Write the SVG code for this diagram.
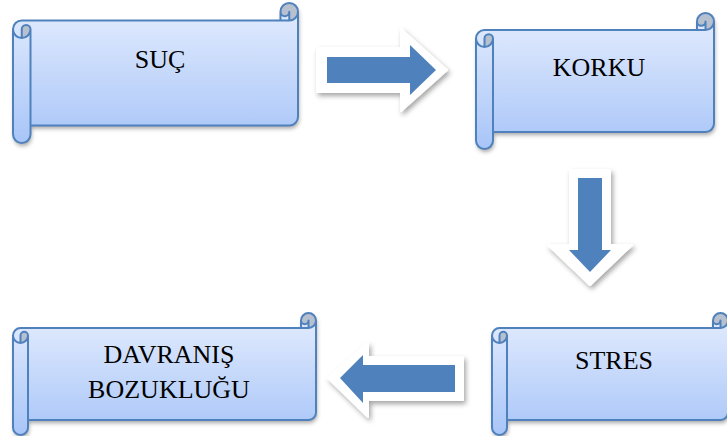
<svg xmlns="http://www.w3.org/2000/svg" width="727" height="436" viewBox="0 0 727 436">
<defs>
  <linearGradient id="g" x1="0" y1="0" x2="0" y2="1">
    <stop offset="0" stop-color="#e0eafd"/>
    <stop offset="1" stop-color="#a8c5f8"/>
  </linearGradient>
  <filter id="sh" x="-10%" y="-10%" width="125%" height="130%">
    <feDropShadow dx="1" dy="3" stdDeviation="2.2" flood-color="#000" flood-opacity="0.35"/>
  </filter>
  <filter id="ash" x="-20%" y="-20%" width="150%" height="150%">
    <feDropShadow dx="2" dy="3" stdDeviation="2.5" flood-color="#000" flood-opacity="0.35"/>
  </filter>
</defs>
<style>
  .body{fill:url(#g);}
  .dark{fill:#b7c0cf;}
  .line{fill:none;stroke:#4f81bd;stroke-width:2;stroke-linejoin:round;}
  .txt{font-family:"Liberation Serif","Times New Roman",serif;font-size:26px;fill:#000;text-anchor:middle;}
  .aw{fill:#fff;stroke:#fff;stroke-width:2;stroke-linejoin:round;}
  .ab{fill:#4f81bd;}
</style>

<g id="node-suc" transform="translate(13,3)">
  <g filter="url(#sh)">
    <path class="body" d="M285,8.75 A8.75,8.75 0 0 1 276.25,17.5 L276.25,8.75 A4.375,4.375 0 0 1 267.5,8.75 L267.5,17.5 L8.75,17.5 A8.75,8.75 0 0 0 0,26.25 L0,131.25 A8.75,8.75 0 0 0 17.5,131.25 L17.5,122.5 L276.25,122.5 A8.75,8.75 0 0 0 285,113.75 Z"/>
    <path class="dark" d="M8.75,35 A8.75,8.75 0 0 0 17.5,26.25 A4.375,4.375 0 0 0 8.75,26.25 Z M276.25,17.5 A8.75,8.75 0 1 0 267.5,8.75 A4.375,4.375 0 0 0 276.25,8.75 Z"/>
  </g>
  <path class="line" d="M0,26.25 A8.75,8.75 0 0 1 8.75,17.5 L267.5,17.5 L267.5,8.75 A8.75,8.75 0 0 1 285,8.75 L285,113.75 A8.75,8.75 0 0 1 276.25,122.5 L17.5,122.5 L17.5,131.25 A8.75,8.75 0 0 1 0,131.25 Z M267.5,17.5 L276.25,17.5 A8.75,8.75 0 0 0 285,8.75 M276.25,17.5 L276.25,8.75 A4.375,4.375 0 0 1 267.5,8.75 M8.75,35 L8.75,26.25 A4.375,4.375 0 0 1 17.5,26.25 A8.75,8.75 0 0 1 0,26.25 M17.5,26.25 L17.5,122.5"/>
  <text class="txt" x="147" y="65">SUÇ</text>
</g>

<g id="node-korku" transform="translate(476,13)">
  <g filter="url(#sh)">
    <path class="body" d="M238,8.5 A8.5,8.5 0 0 1 229.5,17 L229.5,8.5 A4.25,4.25 0 0 1 221,8.5 L221,17 L8.5,17 A8.5,8.5 0 0 0 0,25.5 L0,127.5 A8.5,8.5 0 0 0 17,127.5 L17,119 L229.5,119 A8.5,8.5 0 0 0 238,110.5 Z"/>
    <path class="dark" d="M8.5,34 A8.5,8.5 0 0 0 17,25.5 A4.25,4.25 0 0 0 8.5,25.5 Z M229.5,17 A8.5,8.5 0 1 0 221,8.5 A4.25,4.25 0 0 0 229.5,8.5 Z"/>
  </g>
  <path class="line" d="M0,25.5 A8.5,8.5 0 0 1 8.5,17 L221,17 L221,8.5 A8.5,8.5 0 0 1 238,8.5 L238,110.5 A8.5,8.5 0 0 1 229.5,119 L17,119 L17,127.5 A8.5,8.5 0 0 1 0,127.5 Z M221,17 L229.5,17 A8.5,8.5 0 0 0 238,8.5 M229.5,17 L229.5,8.5 A4.25,4.25 0 0 1 221,8.5 M8.5,34 L8.5,25.5 A4.25,4.25 0 0 1 17,25.5 A8.5,8.5 0 0 1 0,25.5 M17,25.5 L17,119"/>
  <text class="txt" x="123" y="63">KORKU</text>
</g>

<g id="node-stres" transform="translate(492,313)">
  <g filter="url(#sh)">
    <path class="body" d="M236,7.5 A7.5,7.5 0 0 1 228.5,15 L228.5,7.5 A3.75,3.75 0 0 1 221,7.5 L221,15 L7.5,15 A7.5,7.5 0 0 0 0,22.5 L0,114.5 A7.5,7.5 0 0 0 15,114.5 L15,107 L228.5,107 A7.5,7.5 0 0 0 236,99.5 Z"/>
    <path class="dark" d="M7.5,30 A7.5,7.5 0 0 0 15,22.5 A3.75,3.75 0 0 0 7.5,22.5 Z M228.5,15 A7.5,7.5 0 1 0 221,7.5 A3.75,3.75 0 0 0 228.5,7.5 Z"/>
  </g>
  <path class="line" d="M0,22.5 A7.5,7.5 0 0 1 7.5,15 L221,15 L221,7.5 A7.5,7.5 0 0 1 236,7.5 L236,99.5 A7.5,7.5 0 0 1 228.5,107 L15,107 L15,114.5 A7.5,7.5 0 0 1 0,114.5 Z M221,15 L228.5,15 A7.5,7.5 0 0 0 236,7.5 M228.5,15 L228.5,7.5 A3.75,3.75 0 0 1 221,7.5 M7.5,30 L7.5,22.5 A3.75,3.75 0 0 1 15,22.5 A7.5,7.5 0 0 1 0,22.5 M15,22.5 L15,107"/>
  <text class="txt" x="122" y="56">STRES</text>
</g>

<g id="node-davranis" transform="translate(13,313)">
  <g filter="url(#sh)">
    <path class="body" d="M303,7.5 A7.5,7.5 0 0 1 295.5,15 L295.5,7.5 A3.75,3.75 0 0 1 288,7.5 L288,15 L7.5,15 A7.5,7.5 0 0 0 0,22.5 L0,114.5 A7.5,7.5 0 0 0 15,114.5 L15,107 L295.5,107 A7.5,7.5 0 0 0 303,99.5 Z"/>
    <path class="dark" d="M7.5,30 A7.5,7.5 0 0 0 15,22.5 A3.75,3.75 0 0 0 7.5,22.5 Z M295.5,15 A7.5,7.5 0 1 0 288,7.5 A3.75,3.75 0 0 0 295.5,7.5 Z"/>
  </g>
  <path class="line" d="M0,22.5 A7.5,7.5 0 0 1 7.5,15 L288,15 L288,7.5 A7.5,7.5 0 0 1 303,7.5 L303,99.5 A7.5,7.5 0 0 1 295.5,107 L15,107 L15,114.5 A7.5,7.5 0 0 1 0,114.5 Z M288,15 L295.5,15 A7.5,7.5 0 0 0 303,7.5 M295.5,15 L295.5,7.5 A3.75,3.75 0 0 1 288,7.5 M7.5,30 L7.5,22.5 A3.75,3.75 0 0 1 15,22.5 A7.5,7.5 0 0 1 0,22.5 M15,22.5 L15,107"/>
  <text class="txt" x="156" y="50">DAVRANIŞ</text>
  <text class="txt" x="156" y="85">BOZUKLUĞU</text>
</g>

<g id="connectors">
  <g id="arrow-right">
    <polygon class="aw" filter="url(#ash)" points="317,48 401,48 401,29 447,70 401,111 401,92 317,92"/>
    <polygon class="ab" points="327,57 410,57 410,45 436,70 410,95 410,83 327,83"/>
  </g>
  <g id="arrow-down">
    <polygon class="aw" filter="url(#ash)" points="570,170 610,170 610,245 632,245 590,285 548,245 570,245"/>
    <polygon class="ab" points="578,178 602,178 602,250 611,250 590,272 569,250 578,250"/>
  </g>
  <g id="arrow-left">
    <polygon class="aw" filter="url(#ash)" points="463,357 463,400 368,400 368,417 328,378 368,343 368,357"/>
    <polygon class="ab" points="455,365 455,392 363,392 363,403 340,378 363,355 363,365"/>
  </g>
</g>
</svg>
